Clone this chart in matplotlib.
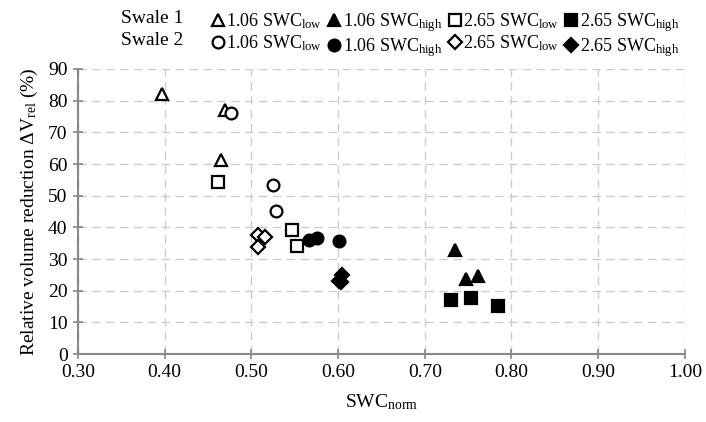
import matplotlib.pyplot as plt
from matplotlib.ticker import MultipleLocator, FormatStrFormatter

plt.rcParams['font.family'] = ['Liberation Serif', 'DejaVu Serif']
plt.rcParams['mathtext.fontset'] = 'custom'
plt.rcParams['mathtext.rm'] = 'Liberation Serif'
plt.rcParams['mathtext.it'] = 'Liberation Serif:italic'

# Swale 1
s1_low106_x = [0.397, 0.469, 0.465]
s1_low106_y = [82.2, 77.0, 61.4]
s1_high106_x = [0.735, 0.748, 0.761]
s1_high106_y = [32.8, 23.6, 24.6]
s1_low265_x = [0.461, 0.547, 0.553]
s1_low265_y = [54.2, 39.3, 34.1]
s1_high265_x = [0.730, 0.753, 0.784]
s1_high265_y = [17.2, 17.8, 15.1]

# Swale 2
s2_low106_x = [0.477, 0.525, 0.528]
s2_low106_y = [76.1, 53.5, 45.1]
s2_high106_x = [0.567, 0.576, 0.601]
s2_high106_y = [35.9, 36.7, 35.6]
s2_low265_x = [0.508, 0.516, 0.508]
s2_low265_y = [37.5, 36.8, 33.8]
s2_high265_x = [0.604, 0.601, 0.603]
s2_high265_y = [25.0, 23.0, 22.6]

fig = plt.figure(figsize=(7.06, 4.22), dpi=100)
ax = fig.add_axes([0.1105, 0.161, 0.8595, 0.6755])

ms = 8.5
mew = 1.6
kw = dict(linestyle='none', color='black', markersize=ms, markeredgewidth=mew)
kwd = dict(linestyle='none', color='black', markersize=ms - 1.5, markeredgewidth=mew)

h1, = ax.plot(s1_low106_x, s1_low106_y, marker='^', markerfacecolor='white', label='1.06 SWC$_{\\mathrm{low}}$', **kw)
h2, = ax.plot(s1_high106_x, s1_high106_y, marker='^', markerfacecolor='black', label='1.06 SWC$_{\\mathrm{high}}$', **kw)
h3, = ax.plot(s1_low265_x, s1_low265_y, marker='s', markerfacecolor='white', label='2.65 SWC$_{\\mathrm{low}}$', **kw)
h4, = ax.plot(s1_high265_x, s1_high265_y, marker='s', markerfacecolor='black', label='2.65 SWC$_{\\mathrm{high}}$', **kw)
h5, = ax.plot(s2_low106_x, s2_low106_y, marker='o', markerfacecolor='white', label='1.06 SWC$_{\\mathrm{low}}$', **kw)
h6, = ax.plot(s2_high106_x, s2_high106_y, marker='o', markerfacecolor='black', label='1.06 SWC$_{\\mathrm{high}}$', **kw)
h7, = ax.plot(s2_low265_x, s2_low265_y, marker='D', markerfacecolor='white', label='2.65 SWC$_{\\mathrm{low}}$', **kwd)
h8, = ax.plot(s2_high265_x, s2_high265_y, marker='D', markerfacecolor='black', label='2.65 SWC$_{\\mathrm{high}}$', **kwd)

ax.set_xlim(0.30, 1.00)
ax.set_ylim(0, 90)
ax.xaxis.set_major_locator(MultipleLocator(0.1))
ax.yaxis.set_major_locator(MultipleLocator(10))
ax.xaxis.set_major_formatter(FormatStrFormatter('%.2f'))

ax.grid(True, color='#cccccc', linestyle=(0, (6, 4)), linewidth=1.0)
ax.set_axisbelow(True)
for s in ['top', 'right']:
    ax.spines[s].set_visible(False)
for s in ['left', 'bottom']:
    ax.spines[s].set_color('#888888')
    ax.spines[s].set_linewidth(1.5)
ax.tick_params(direction='inout', length=7, width=1.2, color='#888888', labelsize=14, pad=4)

ax.set_xlabel('SWC$_{\\mathrm{norm}}$', fontsize=14, labelpad=8)
ax.set_ylabel('Relative volume reduction $\\Delta$V$_{\\mathrm{rel}}$ (%)', fontsize=14, labelpad=6)

handles = [h1, h5, h2, h6, h3, h7, h4, h8]
fig.legend(handles=handles, loc='upper left', bbox_to_anchor=(0.284, 1.003), ncol=4, frameon=False,
           fontsize=13, handlelength=0.5, handletextpad=0.2, columnspacing=0.45, labelspacing=0.1,
           borderpad=0.2)
fig.text(0.172, 0.955, 'Swale 1', fontsize=14, va='center')
fig.text(0.172, 0.903, 'Swale 2', fontsize=14, va='center')

fig.savefig('out.png', dpi=100)
